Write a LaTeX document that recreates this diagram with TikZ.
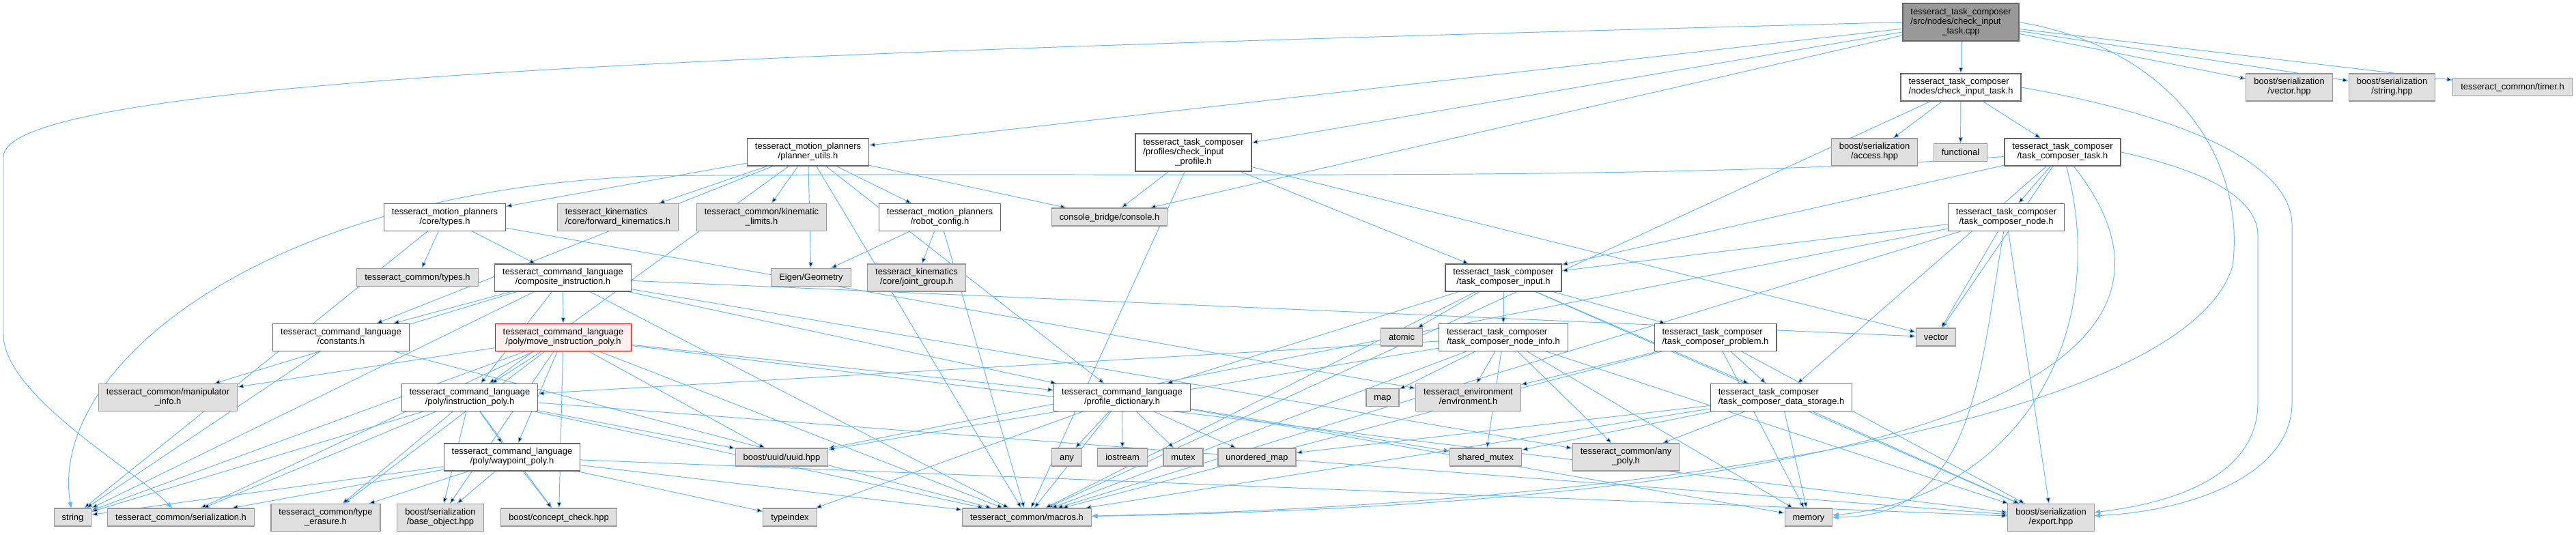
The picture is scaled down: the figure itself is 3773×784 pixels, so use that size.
\documentclass[tikz,border=0pt]{standalone}
\usepackage{fontspec}
\setmainfont{Liberation Sans}
\usetikzlibrary{arrows.meta}
\definecolor{edgeblue}{HTML}{63B8FF}
\definecolor{extfill}{HTML}{E0E0E0}
\definecolor{extline}{HTML}{999999}
\definecolor{docline}{HTML}{666666}
\definecolor{curfill}{HTML}{999999}
\definecolor{hlfill}{HTML}{FFF0F0}
\pgfdeclarelayer{bg}
\pgfsetlayers{bg,main}
\newcommand{\twoline}[2]{\begin{tabular}{@{}l@{}}#1\\\multicolumn{1}{@{}c@{}}{#2}\end{tabular}}
\newcommand{\threeline}[3]{\begin{tabular}{@{}l@{}}#1\\#2\\\multicolumn{1}{@{}c@{}}{#3}\end{tabular}}
\begin{document}
\begin{tikzpicture}[x=0.02cm, y=-0.02cm, >={Triangle[length=0.17cm,width=0.13cm]},
    font=\fontsize{7.35}{8}\selectfont,
    inc/.style={draw, inner xsep=0.23cm, inner ysep=1pt, line width=0.7pt},
    doc/.style={inc, draw=docline, fill=white},
    ext/.style={inc, draw=extline, fill=extfill},
    cur/.style={inc, draw=docline, fill=curfill},
    hl/.style={inc, draw=red, fill=hlfill},
    one/.style={minimum height=0.52cm, text height=6.2pt, text depth=1.6pt},
    two/.style={minimum height=0.8cm},
    three/.style={minimum height=1.1cm},
    dep/.style={->, draw=edgeblue, line width=0.55pt}]
  \useasboundingbox (0,0) rectangle (3773,784);
  % row 1
  \node[cur, three] (root) at (2872,32.5) {\threeline{tesseract\_task\_composer}{/src/nodes/check\_input}{\_task.cpp}};
  \node[doc, two] (cit) at (2872,128) {\twoline{tesseract\_task\_composer}{/nodes/check\_input\_task.h}};
  \node[ext, two] (vechpp) at (3353,128) {\twoline{boost/serialization}{/vector.hpp}};
  \node[ext, two] (strhpp) at (3503.5,128) {\twoline{boost/serialization}{/string.hpp}};
  \node[ext, one] (timer) at (3680,127.5) {tesseract\_common/timer.h};
  % row 2
  \node[doc, two] (putils) at (1183.5,223) {\twoline{tesseract\_motion\_planners}{/planner\_utils.h}};
  \node[doc, three] (cprof) at (1748,223.5) {\threeline{tesseract\_task\_composer}{/profiles/check\_input}{\_profile.h}};
  \node[ext, two] (access) at (2745.5,223) {\twoline{boost/serialization}{/access.hpp}};
  \node[ext, one] (functional) at (2871.5,223.5) {functional};
  \node[doc, two] (tctask) at (3021,223) {\twoline{tesseract\_task\_composer}{/task\_composer\_task.h}};
  % row 3
  \node[doc, two] (coretypes) at (651.5,318.5) {\twoline{tesseract\_motion\_planners}{/core/types.h}};
  \node[ext, two] (fwdkin) at (905,318.5) {\twoline{tesseract\_kinematics}{/core/forward\_kinematics.h}};
  \node[ext, two] (kinlim) at (1115.5,318.5) {\twoline{tesseract\_common/kinematic}{\_limits.h}};
  \node[doc, two] (robcfg) at (1376.5,318.5) {\twoline{tesseract\_motion\_planners}{/robot\_config.h}};
  \node[ext, one] (console) at (1625,318) {console\_bridge/console.h};
  \node[doc, two] (tcnode) at (2938.5,318.5) {\twoline{tesseract\_task\_composer}{/task\_composer\_node.h}};
  % row 4
  \node[ext, one] (tctypes) at (611.5,406.5) {tesseract\_common/types.h};
  \node[doc, two] (composite) at (824.5,407) {\twoline{tesseract\_command\_language}{/composite\_instruction.h}};
  \node[ext, one] (eigen) at (1188,406.5) {Eigen/Geometry};
  \node[ext, two] (jgroup) at (1342.5,407) {\twoline{tesseract\_kinematics}{/core/joint\_group.h}};
  \node[doc, two] (tcinput) at (2202,407) {\twoline{tesseract\_task\_composer}{/task\_composer\_input.h}};
  % row 5
  \node[doc, two] (constants) at (499.5,494.5) {\twoline{tesseract\_command\_language}{/constants.h}};
  \node[hl, two] (moveinstr) at (825,494.5) {\twoline{tesseract\_command\_language}{/poly/move\_instruction\_poly.h}};
  \node[ext, one] (atomic) at (2053,494) {atomic};
  \node[doc, two] (nodeinfo) at (2202,494.5) {\twoline{tesseract\_task\_composer}{/task\_composer\_node\_info.h}};
  \node[doc, two] (problem) at (2512.5,494.5) {\twoline{tesseract\_task\_composer}{/task\_composer\_problem.h}};
  \node[ext, one] (vector) at (2835.5,494) {vector};
  % row 6
  \node[ext, two] (maninfo) at (246,582.5) {\twoline{tesseract\_common/manipulator}{\_info.h}};
  \node[doc, two] (instrpoly) at (688,582.5) {\twoline{tesseract\_command\_language}{/poly/instruction\_poly.h}};
  \node[doc, two] (profdict) at (1643.5,582.5) {\twoline{tesseract\_command\_language}{/profile\_dictionary.h}};
  \node[ext, one] (map) at (2025,582.5) {map};
  \node[ext, two] (envh) at (2150.5,582.5) {\twoline{tesseract\_environment}{/environment.h}};
  \node[doc, two] (datastore) at (2609,582.5) {\twoline{tesseract\_task\_composer}{/task\_composer\_data\_storage.h}};
  % row 7
  \node[doc, two] (wppoly) at (750,670) {\twoline{tesseract\_command\_language}{/poly/waypoint\_poly.h}};
  \node[ext, one] (uuid) at (1145,670) {boost/uuid/uuid.hpp};
  \node[ext, one] (any) at (1562.5,670) {any};
  \node[ext, one] (iostream) at (1644,670) {iostream};
  \node[ext, one] (mutex) at (1733,670) {mutex};
  \node[ext, one] (umap) at (1841,670) {unordered\_map};
  \node[ext, one] (shmutex) at (2176,670) {shared\_mutex};
  \node[ext, two] (anypoly) at (2381.5,670) {\twoline{tesseract\_common/any}{\_poly.h}};
  % row 8
  \node[ext, one] (string) at (106.5,758) {string};
  \node[ext, one] (serial) at (265,758) {tesseract\_common/serialization.h};
  \node[ext, two] (typeerase) at (477,758.5) {\twoline{tesseract\_common/type}{\_erasure.h}};
  \node[ext, two] (baseobj) at (645,758.5) {\twoline{boost/serialization}{/base\_object.hpp}};
  \node[ext, one] (concept) at (818.5,758) {boost/concept\_check.hpp};
  \node[ext, one] (typeindex) at (1157,758) {typeindex};
  \node[ext, one] (macros) at (1504,758) {tesseract\_common/macros.h};
  \node[ext, one] (memory) at (2649,758) {memory};
  \node[ext, two] (export) at (3004,758.5) {\twoline{boost/serialization}{/export.hpp}};
  % long detours
  \coordinate (lfar1) at (5,230);
  \coordinate (lfar2) at (5,490);
  \coordinate (cx1) at (3357,330);
  \coordinate (cx2) at (3357,590);
  \coordinate (tx1) at (3307,345);
  \coordinate (tx2) at (3307,590);
  \coordinate (rx1) at (3270,390);
  \coordinate (ts1) at (950,258);
  \begin{pgfonlayer}{bg}
    \fill[white] (0,0) rectangle (3773,784);
    % includes of check_input_task.cpp
    \draw[dep] (root) edge (cit) edge (vechpp) edge (strhpp) edge (timer)
      edge (putils) edge (cprof) edge (console);
    \draw[dep] (root.west) .. controls (1200,75) and (5,110) .. (lfar1) -- (lfar2)
      .. controls (5,580) and (200,690) .. (serial);
    \draw[dep] (root.east) .. controls (3180,70) and (3290,230) .. (rx1)
      .. controls (3200,620) and (2400,740) .. (macros);
    % check_input_task.h
    \draw[dep] (cit) edge (access) edge (functional) edge (tctask) edge (macros);
    \draw[dep] (cit.east) .. controls (3200,170) and (3357,240) .. (cx1) -- (cx2)
      .. controls (3357,700) and (3200,750) .. (export);
    % check_input_profile.h
    \draw[dep] (cprof) edge (console) edge (macros) edge (tcinput) edge (vector);
    % planner_utils.h
    \draw[dep] (putils) edge (coretypes) edge (constants) edge (instrpoly) edge (fwdkin)
      edge (kinlim) edge (eigen) edge (robcfg) edge (console) edge (profdict) edge (macros);
    % task_composer_task.h
    \draw[dep] (tctask) edge (tcnode) edge (tcinput) edge (vector) edge (datastore);
    \draw[dep] (tctask) .. controls (3256,520) and (2900,735) .. (macros);
    \draw[dep] (tctask) to[out=-75, in=5, looseness=1.1] (memory);
    \draw[dep] (tctask) .. controls (2400,270) and (1600,250) .. (ts1)
      .. controls (380,280) and (70,540) .. (string);
    \draw[dep] (tctask.east) .. controls (3230,250) and (3307,290) .. (tx1) -- (tx2)
      .. controls (3307,690) and (3200,735) .. (export);
    % core/types.h and robot_config.h
    \draw[dep] (coretypes) edge (tctypes) edge (composite) edge (string) edge (envh);
    \draw[dep] (robcfg) edge (eigen) edge (jgroup) edge (macros);
    % task_composer_node.h
    \draw[dep] (tcnode) edge (tcinput) edge (uuid) edge (vector) edge (macros) edge (export);
    \draw[dep] (tcnode) to[out=-100, in=0, looseness=1.1] (memory);
    % composite_instruction.h
    \draw[dep] (composite) edge (constants) edge (moveinstr) edge (instrpoly) edge (maninfo)
      edge (string) edge (profdict) edge (vector) edge (anypoly) edge (macros);
    % task_composer_input.h
    \draw[dep] (tcinput) edge (atomic) edge (nodeinfo) edge (problem) edge (datastore)
      edge (profdict) edge (macros) edge (export);
    % constants.h
    \draw[dep] (constants) edge (string) edge (macros);
    % move_instruction_poly.h
    \draw[dep] (moveinstr) edge (instrpoly) edge (wppoly) edge (maninfo) edge (string)
      edge (serial) edge (typeerase) edge (baseobj) edge (concept) edge (uuid)
      edge (macros) edge (export) edge (profdict);
    % task_composer_node_info.h
    \draw[dep] (nodeinfo) edge (map) edge (envh) edge (shmutex) edge (anypoly) edge (memory)
      edge (uuid) edge (instrpoly) edge (macros) edge (export);
    % task_composer_problem.h
    \draw[dep] (problem) edge (envh) edge (datastore) edge (memory) edge (macros) edge (export);
    % instruction_poly.h
    \draw[dep] (instrpoly) edge (wppoly) edge (string) edge (serial) edge (typeerase)
      edge (baseobj) edge (concept) edge (uuid) edge (macros) edge (export);
    % profile_dictionary.h
    \draw[dep] (profdict) edge (any) edge (iostream) edge (mutex) edge (shmutex)
      edge (umap) edge (typeindex) edge (memory) edge (macros);
    % task_composer_data_storage.h
    \draw[dep] (datastore) edge (umap) edge (shmutex) edge (anypoly) edge (memory)
      edge (macros) edge (export);
    % waypoint_poly.h
    \draw[dep] (wppoly) edge (string) edge (serial) edge (typeerase) edge (baseobj)
      edge (concept) edge (typeindex) edge (macros) edge (export);
  \end{pgfonlayer}
\end{tikzpicture}
\end{document}
